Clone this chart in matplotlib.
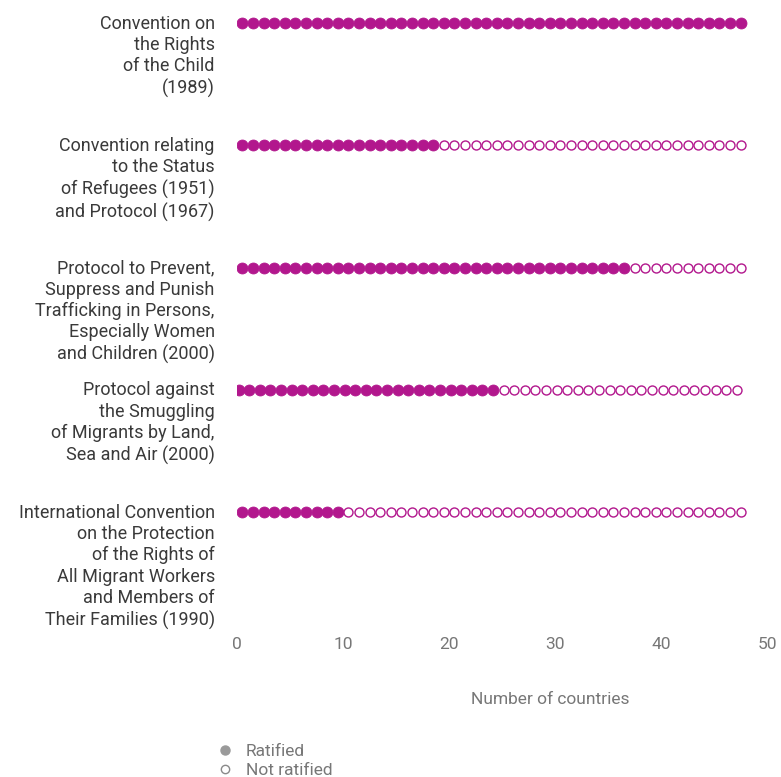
import matplotlib
matplotlib.use("Agg")
import matplotlib.pyplot as plt
from matplotlib.lines import Line2D

plt.rcParams['font.family'] = ['Roboto', 'DejaVu Sans']

conventions = [
    "Convention on\nthe Rights\nof the Child\n(1989)",
    "Convention relating\nto the Status\nof Refugees (1951)\nand Protocol (1967)",
    "Protocol to Prevent,\nSuppress and Punish\nTrafficking in Persons,\nEspecially Women\nand Children (2000)",
    "Protocol against\nthe Smuggling\nof Migrants by Land,\nSea and Air (2000)",
    "International Convention\non the Protection\nof the Rights of\nAll Migrant Workers\nand Members of\nTheir Families (1990)",
]
ratified = [48, 19, 37, 25, 10]
total_countries = 48
row_shift = [0.5, 0.5, 0.5, 0.15, 0.5]
xticks = [0, 10, 20, 30, 40, 50]

MAGENTA = '#B2178D'
TICK_GREY = '#777777'
TEXT_DARK = '#3a3a3a'

fig = plt.figure(figsize=(7.81, 7.77), dpi=100)
ax = fig.add_axes([237/781, 1 - 633/777, 530/781, (633 - 10.8)/777])

for row, (n_rat, shift) in enumerate(zip(ratified, row_shift)):
    xs_f = [i + shift for i in range(n_rat)]
    xs_o = [i + shift for i in range(n_rat, total_countries)]
    ax.scatter(xs_f, [row] * len(xs_f), s=62, color=MAGENTA, edgecolors=MAGENTA,
               linewidths=0.6, zorder=3)
    ax.scatter(xs_o, [row] * len(xs_o), s=42, facecolors='white', edgecolors=MAGENTA,
               linewidths=1.0, zorder=3)
    ax.annotate(conventions[row], xy=(0, row), xycoords='data',
                xytext=(-16, 6), textcoords='offset points',
                ha='right', va='top', fontsize=13, color=TEXT_DARK,
                linespacing=1.24, annotation_clip=False)

ax.set_xlim(0, 50)
ax.set_ylim(4.99, -0.1)
ax.set_xticks(xticks)
ax.set_xticklabels([str(t) for t in xticks])
ax.set_yticks([])
ax.tick_params(axis='x', length=0, pad=3, labelsize=12.5, labelcolor=TICK_GREY)
for sp in ax.spines.values():
    sp.set_visible(False)

ax.set_xlabel("Number of countries", fontsize=12.5, color=TICK_GREY)
ax.xaxis.set_label_coords(313/530, -(692 - 633)/(633 - 10.8))

handles = [
    Line2D([], [], marker='o', linestyle='none', markersize=6.5,
           markerfacecolor='#9a9a9a', markeredgecolor='#9a9a9a'),
    Line2D([], [], marker='o', linestyle='none', markersize=6,
           markerfacecolor='white', markeredgecolor='#8a8a8a', markeredgewidth=1),
]
fig.legend(handles, ["Ratified", "Not ratified"], loc='upper left',
           bbox_to_anchor=(218/781, 1 - 744/777), frameon=False,
           fontsize=12.5, labelcolor=TICK_GREY, handlelength=0.8,
           handletextpad=0.8, labelspacing=0.2, borderpad=0, borderaxespad=0)

fig.savefig("out.png", dpi=100)
